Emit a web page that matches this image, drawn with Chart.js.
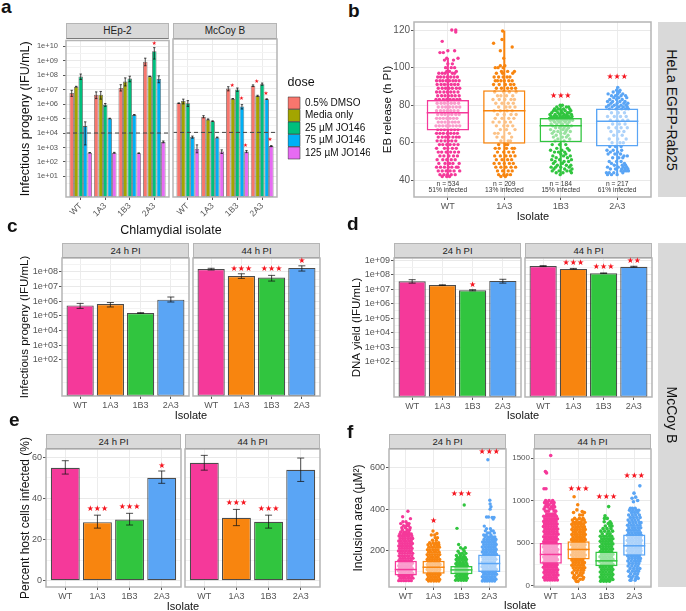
<!DOCTYPE html>
<html><head><meta charset="utf-8">
<script src="https://cdn.jsdelivr.net/npm/chart.js@4"></script>
<style>
html,body{margin:0;padding:0;background:#fff}
body{position:relative;width:686px;height:611px;overflow:hidden;font-family:"Liberation Sans",Arial,sans-serif}
canvas{position:absolute}
.t{position:absolute;white-space:nowrap;line-height:normal;color:#111}
.s{position:absolute;box-sizing:border-box;background:#d9d9d9;border:1px solid #b5b5b5;border-bottom:1.5px solid #7a7a7a;color:#222;text-align:center}
</style></head><body>
<script>
/* ---------- shared labels and colours ---------- */
const isolates = ["WT","1A3","1B3","2A3"];
const isoColors = ["#F5399A","#F8850F","#31C53F","#5AA5F5"];
const doses = ["0.5% DMSO","Media only","25 µM JO146","75 µM JO146","125 µM JO146"];
const doseColors = ["#F8766D","#A3A500","#00BF7D","#00B0F6","#E76BF3"];

/* ---------- panel a: values per dose, per isolate ---------- */
const hepValues = [[5.8e6,4.4e6,1.3e7,8.5e8],[1.6e7,4.4e6,3.6e7,8.3e7],[8e7,9e5,5.8e7,4.6e9],[3e4,1e5,1.8e5,5.5e7],[4.3e2,4.3e2,4e2,2.4e3]];
const hepLow = [[3.4e6,2.4e6,8e6,4.5e8],[1.5e7,2.2e6,1.8e7,8e7],[5e7,7e5,3.5e7,1.3e9],[1.5e3,9.5e4,1.7e5,3e7],[4.1e2,4e2,3.9e2,2.1e3]];
const hepHigh = [[9e6,7e6,2.2e7,1.5e9],[1.7e7,7.5e6,6.5e7,8.6e7],[1.2e8,1.1e6,8.5e7,8e9],[5.9e4,1.05e5,1.9e5,9e7],[4.5e2,4.6e2,4.2e2,2.8e3]];
const mccValues = [[1e6,1.2e5,1e7,1.6e7],[1.4e6,7.8e4,2e6,3.2e6],[1e6,5.9e4,8.7e6,2e7],[4.8e3,4.5e3,6e5,1.9e6],[7.6e2,4.9e2,4.9e2,1.15e3]];
const mccLow = [[9.5e5,1e5,7e6,1.4e7],[9e5,7.2e4,1.9e6,2.9e6],[6e5,5.6e4,6.5e6,1.7e7],[4e3,4.2e3,4e5,1.8e6],[4e2,3.6e2,4.1e2,1.05e3]];
const mccHigh = [[1.05e6,1.4e5,1.35e7,1.8e7],[1.9e6,8.4e4,2.1e6,3.5e6],[1.5e6,6.2e4,1.1e7,2.4e7],[5.6e3,4.8e3,8e5,2e6],[1.4e3,6.4e2,5.8e2,1.25e3]];
const cutoff = 1e4;

/* ---------- panel c ---------- */
const c24 = [5.1e5,6.3e5,1.55e5,1.26e6], c24Low = [3.2e5,4e5,1.45e5,8.7e5], c24High = [7e5,8e5,1.65e5,1.9e6];
const c44 = [1.5e8,5e7,4e7,1.8e8], c44Low = [1.3e8,3.5e7,2.3e7,1.1e8], c44High = [1.7e8,7.2e7,5.6e7,2.5e8];
/* ---------- panel d ---------- */
const d24 = [3.5e7,1.9e7,8.5e6,3.7e7], d24Low = [2.6e7,1.8e7,7.7e6,2.6e7], d24High = [4.5e7,2e7,9.2e6,4.8e7];
const d44 = [3.9e8,2.5e8,1.26e8,3.5e8], d44Low = [3.6e8,2.35e8,1.2e8,3.3e8], d44High = [4.2e8,2.7e8,1.32e8,3.8e8];
/* ---------- panel e ---------- */
const e24 = [55,28.5,29.8,50.1], e24Low = [51.9,25.6,27.1,47.4], e24High = [58.4,31.9,32.8,53.4];
const e44 = [57.4,30.6,28.7,54], e44Low = [53.8,26.8,25.6,48.3], e44High = [61,34.7,31.9,59.7];

/* ---------- panel b: box statistics [q1, median, q3], whiskers, counts ---------- */
const bBox = [[66.5,76,82.8],[59.5,77,88],[60.2,69,73.2],[58,71.4,78.2]];
const bWhisk = [[42,105],[42,119.5],[43,80],[43,89]];
const bN = ["n = 534","n = 209","n = 184","n = 217"];
const bPct = ["51% infected","13% infected","15% infected","61% infected"];
/* points: [y, [x offsets in hundredths of a category]] */
const bWT = [[120,[7,14]],[119,[14]],[114,[-10]],[109,[0,12]],[108,[-14,-8]],[105,[-2,18]],[104,[-6,10]],[102,[0,8]],[100,[-4,6,12]],[98,[-2,3,15]],[97,[-16,-10,-5,8,12]],[95,[-18,-13,-7,-1,5,11,17]],[93,[-20,-14,-9,-3,3,9,14,20]],[91,[-19,-12,-6,0,6,12,18]],[89,[-17,-10,-4,2,8,15,21]],[87,[-20,-14,-7,-1,5,11,18]],[85,[-18,-11,-5,1,7,13,20]],[83,[-21,-15,-8,-2,4,10,16,21]],[81,[-19,-12,-6,0,6,12,19]],[79,[-17,-10,-4,3,9,15,21]],[77,[-20,-13,-7,-1,5,11,18]],[75,[-18,-11,-5,1,7,14,20]],[73,[-20,-14,-8,-2,4,10,16]],[71,[-17,-11,-5,2,8,13,19]],[69,[-21,-15,-9,-3,3,9,15,21]],[67,[-18,-12,-6,0,6,12,18]],[65,[-20,-14,-8,-1,5,11,17]],[63,[-17,-10,-4,2,9,15,20]],[61,[-19,-12,-5,1,7,14]],[59,[-15,-9,-2,4,11,18]],[57,[-20,-6,0,8,15]],[55,[-17,-11,-3,5,12,19]],[53,[-14,-7,2,10,17]],[51,[-19,-9,-2,6,13]],[49,[-16,-5,3,9,20]],[47,[-20,-13,-6,1,7,15,18]],[45,[-17,-10,-3,4,11,21]],[43,[-14,-7,-1,6,13]],[42,[-10,-2,3]]];
const b1A3 = [[119.5,[-3]],[115,[-4]],[113,[-19]],[111,[14]],[109,[-7]],[105,[-1]],[101,[-7,1]],[100,[-16,-11,-2]],[98,[18,-5,6]],[97,[-14,-3,15]],[95,[-18,-10,-2,5,10]],[93,[-16,-12,-6,0,8,14]],[91,[-19,-9,2,11,17]],[89,[-14,-5,6,13,20]],[87,[-17,-1,9,21]],[85,[-12,-6,4,15]],[83,[-20,-9,1,12,18]],[81,[-15,-4,7,16]],[79,[-10,3,10,19]],[77,[-18,-7,5,14]],[75,[-12,0,12,21]],[73,[-16,-4,8,17]],[71,[-20,-9,2,11]],[69,[-14,-1,6,15]],[67,[-7,4,19]],[65,[-17,-11,9]],[63,[-13,-3,13]],[61,[-6,7,11]],[59,[-10,2,6]],[57,[-16,-9,4,14,18]],[55,[-12,-1,8,16]],[53,[-17,-7,3,11,19]],[51,[-14,-4,6,13]],[49,[-18,-9,0,9,16]],[47,[-15,-6,3,12,20]],[45,[-12,-3,7,14]],[43,[-10,-1,5,11]],[42,[-6,2]]];
const b1B3 = [[80,[-1,3]],[79,[-7,10,14]],[78,[-11,-4,5,16]],[77,[-13,-8,1,8,18]],[76,[-16,-5,3,12,15]],[75,[-19,-10,-2,6,11,19]],[74,[-17,-12,-7,-1,4,9,14,20]],[73,[-20,-15,-9,-4,2,7,12,17]],[72,[-18,-13,-6,0,5,10,16,21]],[71,[-11,-3,8,15]],[70,[-17,-7,3,12]],[69,[-14,1,10,19]],[68,[-9,-2,6,14]],[67,[-18,4,11]],[66,[-12,-5,9,17]],[65,[-15,0,7]],[64,[-8,13]],[63,[-13,3,10]],[62,[-5,16]],[61,[-10,6]],[59,[-15,-2,9]],[57,[-7,12]],[56,[-18,2,15]],[55,[-11,-4,7]],[54,[0,9]],[53,[-14,5,17]],[52,[-8,12]],[51,[-16,-2,19]],[50,[-10,6,14]],[49,[-13,3]],[48,[-6,10,18]],[47,[-17,-9,0,15]],[46,[-12,7,20]],[45,[-15,-3,11,17]],[44,[-8,4,19]],[43,[-1]]];
const b2A3 = [[89.5,[1]],[88,[-1,5]],[87,[-7,4]],[86,[-16,1,10]],[85,[-10,-3,7,15]],[84,[-6,3,17]],[83,[-13,-1,9]],[82,[-17,-8,5,14]],[81,[-11,0,12,19]],[80,[-15,-5,7,16]],[79,[-19,-9,3,11,18]],[78,[-14,-2,8,15,20]],[76,[-10,2,13]],[74,[-17,-5,6,16]],[72,[-12,0,10,19]],[70,[-8,4,14]],[68,[-15,-2,7,18]],[66,[-11,3,12]],[64,[-6,9]],[62,[-14,1,16]],[60,[-9,5,11]],[58,[-13,-3,7]],[56,[-18,-7,8]],[55,[-12,1]],[54,[-16,-4,6]],[53,[12,18]],[52,[-8,3,10]],[50,[-14,-1,7]],[49,[-10,13]],[48,[-5,9,15]],[47,[-17,2,11,17]],[46,[-12,-3,8,14,19]],[45,[7,12,16,20]],[44,[-19,-14,-6,10]],[43,[-17,-10,0]]];

/* ---------- panel f: box statistics and points ---------- */
const f24Box = [[78.5,107.7,149.8],[88,119,150],[85,106,125.5],[96,137,180.6]];
const f44Box = [[256,366,500],[307,425,520],[228,291,402],[350,468,602]];
const f24WT = [[390,[8]],[363,[-11]],[354,[17]],[339,[-10,1]],[330,[-18,6,12]],[320,[-8,3,10]],[310,[-14,-1,16]],[300,[-12,5,14]],[290,[-18,-7,2,11]],[280,[-21,-10,-2,6,14,20]],[270,[-24,-15,-6,3,12,22]],[258,[-20,-11,-2,8,17,25]],[246,[-25,-16,-7,2,11,20]],[234,[-21,-12,-3,6,15,24]],[222,[-25,-16,-8,1,10,19]],[210,[-22,-13,-4,5,14,23]],[198,[-26,-17,-8,2,11,20]],[186,[-21,-12,-3,7,16,25]],[174,[-24,-15,-6,3,12,22]],[162,[-20,-11,-2,8,17,26]],[150,[-25,-16,-7,2,11,20]],[138,[-21,-12,-3,6,15,24]],[126,[-25,-16,-8,1,10,19]],[114,[-22,-13,-4,5,14,23]],[102,[-26,-17,-8,2,11,20]],[90,[-21,-12,-3,7,16,25]],[78,[-24,-15,-6,3,12,22]],[66,[-20,-11,-2,8,17,26]],[54,[-25,-16,-7,2,11,20]]];
const f24A = [[294,[-2]],[282,[12]],[275,[-8,4]],[262,[6,14]],[250,[-4,10]],[238,[-14,-2,8,18]],[228,[-20,-9,3,12,19]],[216,[-17,-7,2,11,21]],[204,[-22,-13,-3,7,16]],[192,[-18,-9,1,10,20]],[180,[-23,-14,-5,5,14,22]],[168,[-19,-10,-1,8,17]],[156,[-23,-14,-5,4,13,22]],[144,[-18,-9,1,10,19]],[132,[-22,-13,-4,6,15,23]],[120,[-19,-10,0,9,18]],[108,[-23,-14,-5,4,13,22]],[96,[-18,-9,1,10,20]],[84,[-22,-13,-4,6,15,23]],[72,[-19,-10,0,9,18]],[60,[-23,-14,-5,4,13,22]],[52,[-18,-9,1,10,19]]];
const f1B = [[420,[10]],[307,[-16]],[229,[-10]],[213,[14,-3]],[206,[6]],[196,[-12,10]],[186,[-7,3,16]],[176,[-18,-3,9]],[166,[-14,-5,5,14]],[156,[-19,-9,1,11,18]],[146,[-15,-5,6,16]],[136,[-20,-10,0,9,19]],[126,[-16,-6,4,13,21]],[116,[-20,-11,-1,8,17]],[106,[-16,-6,4,13,21]],[96,[-20,-10,0,9,18]],[86,[-16,-6,4,13,20]],[76,[-20,-10,0,9,18]],[66,[-16,-6,4,13,21]],[56,[-21,-11,-1,8,17]]];
const f24C = [[639,[-5]],[443,[2]],[425,[3]],[412,[6]],[400,[3]],[362,[-10,-3]],[360,[10,17]],[352,[14]],[318,[-18]],[305,[-10,4]],[295,[-14,8,14]],[285,[-6,1,18]],[275,[-20,-11,6]],[265,[-15,-5,3,12,20]],[253,[-19,-9,0,9,17,24]],[241,[-24,-14,-5,4,13,21]],[229,[-20,-10,-1,8,17,25]],[217,[-25,-15,-6,3,12,21]],[205,[-21,-11,-2,7,16,25]],[193,[-25,-16,-7,3,12,22]],[181,[-20,-11,-2,8,17,26]],[169,[-25,-16,-7,2,11,20]],[157,[-21,-12,-3,6,15,24]],[145,[-25,-16,-8,1,10,19]],[133,[-22,-13,-4,5,14,23]],[121,[-26,-17,-8,2,11,20]],[109,[-21,-12,-3,7,16,25]],[97,[-24,-15,-6,3,12,22]],[85,[-20,-11,-2,8,17,26]],[73,[-25,-16,-7,2,11,20]],[61,[-21,-12,-3,6,15,24]],[52,[-25,-16,-8,1,10,19]]];
const f44WT = [[1530,[0]],[1340,[-19]],[1325,[-15]],[1138,[-24,-17]],[1000,[-18,-6,7]],[975,[-22,-12,2,12]],[950,[-16,-6,10]],[925,[-20,-10,3,14]],[900,[-24,-3,8]],[875,[-18,-9,13,18]],[840,[-14,-4,6,15]],[815,[-25,-16,-7,2,11,20]],[785,[-21,-12,-3,6,15,24]],[755,[-25,-16,-8,1,10,19]],[725,[-22,-13,-4,5,14,23]],[695,[-26,-17,-8,2,11,20]],[665,[-21,-12,-3,7,16,25]],[635,[-24,-15,-6,3,12,22]],[605,[-20,-11,-2,8,17,26]],[575,[-25,-16,-7,2,11,20]],[545,[-21,-12,-3,6,15,24]],[515,[-25,-16,-8,1,10,19]],[485,[-22,-13,-4,5,14,23]],[455,[-26,-17,-8,2,11,20]],[425,[-21,-12,-3,7,16,25]],[395,[-24,-15,-6,3,12,22]],[365,[-20,-11,-2,8,17,26]],[335,[-25,-16,-7,2,11,20]],[305,[-21,-12,-3,6,15,24]],[275,[-25,-16,-8,1,10,19]],[245,[-22,-13,-4,5,14,23]],[215,[-26,-17,-8,2,11,20]],[185,[-21,-12,-3,7,16,25]],[155,[-24,-15,-6,3,12,22]],[125,[-20,-11,-2,8,17,26]],[95,[-25,-16,-7,2,11,20]],[65,[-21,-12,-3,6,15,24]]];
const f44A = [[1045,[-16]],[950,[-3]],[890,[-6]],[870,[13]],[860,[-18,21]],[830,[4,14]],[790,[-14,3,16]],[770,[-22,-6,12,20]],[745,[-18,-9,2,9,23]],[720,[-24,-13,-3,7,17]],[690,[-20,-10,0,11,21]],[660,[-24,-14,-5,5,15,24]],[630,[-19,-10,1,10,20]],[600,[-24,-14,-5,5,15,24]],[570,[-20,-10,0,10,20]],[540,[-25,-15,-5,5,14,24]],[510,[-20,-10,0,10,19]],[480,[-25,-15,-5,5,14,23]],[450,[-20,-10,1,11,20]],[420,[-24,-15,-5,5,15,24]],[390,[-20,-10,0,10,19]],[360,[-25,-14,-4,6,15,24]],[330,[-20,-9,1,11,20]],[300,[-24,-14,-4,6,15]],[270,[-19,-9,1,12,21]],[240,[-24,-14,-3,7,17]],[210,[-19,-8,3,13,22]],[180,[-15,-3,9,18]],[150,[-22,-7,6,16]],[120,[-15,1,11]],[95,[-18,-6,18]],[75,[-12,6,15]],[50,[-8,-2]]];
const f1BB = [[929,[8]],[820,[-5]],[790,[-7,3]],[750,[-8,13]],[730,[17,7]],[700,[-4,20,12]],[670,[-12,2,16]],[640,[-20,-6,8,22]],[610,[-15,3,13]],[580,[-22,-10,-1,10,19]],[550,[-17,-7,4,14,23]],[520,[-22,-12,-2,8,18]],[490,[-16,-6,4,14,23]],[460,[-22,-12,-2,8,18]],[430,[-17,-7,3,13,22]],[400,[-22,-12,-2,8,18]],[370,[-17,-7,3,13,23]],[340,[-23,-13,-3,8,18]],[310,[-17,-7,3,13,23]],[280,[-23,-12,-2,8,18]],[250,[-17,-7,4,14,23]],[220,[-22,-12,-2,9,19]],[190,[-17,-7,4,14,23]],[160,[-22,-12,-2,9,19]],[130,[-17,-7,4,14,23]],[100,[-22,-12,-2,9,19]],[72,[-17,-7,4,14,23]],[52,[-21,-10,0,11]]];
const f44C = [[1173,[20]],[1087,[-1]],[1040,[5]],[1027,[-8]],[1000,[12]],[985,[-3]],[910,[-14,-7,3]],[885,[-17,-5,8,16]],[860,[-10,1,12]],[830,[-20,-7,5,18]],[800,[-14,-3,9,21]],[770,[-22,-9,2,14]],[740,[-17,-5,6,19,24]],[710,[-24,-12,-2,10,20]],[680,[-19,-7,3,14,23]],[650,[-24,-14,-3,7,17]],[620,[-20,-9,2,12,22]],[590,[-25,-14,-4,7,17,25]],[560,[-20,-9,2,12,22]],[530,[-25,-14,-4,7,17,25]],[500,[-20,-9,2,12,22]],[470,[-25,-14,-4,7,17,24]],[440,[-20,-9,2,12,22]],[410,[-25,-14,-4,7,17,24]],[380,[-20,-9,2,12,22]],[350,[-24,-13,-3,8,18]],[320,[-19,-8,3,13,22]],[290,[-23,-11,1,11,20]],[260,[-18,-6,6,16]],[230,[-22,-9,3,13]],[200,[-15,-2,10,20]],[170,[-21,-7,5,15]],[140,[-13,1,12]],[110,[-18,-5,9]],[85,[-10,6,14]],[62,[-15,-12,3]]];

/* ---------- stars ---------- */
const aHepStars = [{x:4,y:1.5e10,s:"★"}];
const aMccStars = [{x:2.79,y:1.6e7,s:"★"},{x:3.16,y:2e6,s:"★"},{x:3.33,y:1.26e3,s:"★"},{x:3.78,y:3e7,s:"★"},{x:4.15,y:4.7e6,s:"★"},{x:4.32,y:3.1e3,s:"★"}];
const bStars = [{x:3,y:84.9,s:"★★★"},{x:4,y:94.8,s:"★★★"}];
const c44Stars = [{x:2,y:1.6e8,s:"★★★"},{x:3,y:1.45e8,s:"★★★"},{x:4,y:5.6e8,s:"★"}];
const d24Stars = [{x:3,y:2.1e7,s:"★"}];
const d44Stars = [{x:2,y:6.9e8,s:"★★★"},{x:3,y:3.5e8,s:"★★★"},{x:4,y:8.5e8,s:"★★"}];
const e24Stars = [{x:2,y:34.7,s:"★★★"},{x:3,y:35.7,s:"★★★"},{x:4,y:55.8,s:"★"}];
const e44Stars = [{x:2,y:37.8,s:"★★★"},{x:3,y:34.9,s:"★★★"}];
const f24Stars = [{x:2,y:342,s:"★"},{x:3,y:472,s:"★★★"},{x:4,y:676,s:"★★★"}];
const f44Stars = [{x:2,y:1142,s:"★★★"},{x:3,y:1039,s:"★★★"},{x:4,y:1291,s:"★★★"}];

/* ---------- tick lists ---------- */
const logA = [1e1,1e2,1e3,1e4,1e5,1e6,1e7,1e8,1e9,1e10], logAminor = [3.16,31.6,316,3160,31600,316000,3.16e6,3.16e7,3.16e8,3.16e9];
const logC = [1e2,1e3,1e4,1e5,1e6,1e7,1e8], logCminor = [3.16,31.6,316,3160,31600,316000,3.16e6,3.16e7,3.16e8];
const logD = [1e2,1e3,1e4,1e5,1e6,1e7,1e8,1e9], logDminor = [3.16,31.6,316,3160,31600,316000,3.16e6,3.16e7,3.16e8];
const sci = v => { const e = Math.round(Math.log10(v)); return "1e+" + (e<10?"0":"") + e; };

/* ---------- helpers ---------- */
Chart.defaults.font.family = '"Liberation Sans", Arial, sans-serif';
Chart.defaults.animation = false;
Chart.defaults.plugins.tooltip.enabled = false;
Chart.defaults.plugins.legend.display = false;
const TOP = 8;

function txt(s,x,baseline,size,opt={}){
  const d=document.createElement('div'); d.className='t'; d.textContent=s;
  d.style.left=x+'px'; d.style.top=(baseline-.905*size)+'px'; d.style.fontSize=size+'px';
  if(opt.bold) d.style.fontWeight='bold';
  if(opt.center) d.style.transform='translateX(-50%)';
  document.body.appendChild(d);
}
function strip(s,l,r,t,b,size){
  const d=document.createElement('div'); d.className='s'; d.textContent=s;
  d.style.cssText+=`left:${l}px;top:${t}px;width:${r-l}px;height:${b-t}px;font-size:${size}px;line-height:${b-t-2}px`;
  document.body.appendChild(d);
}
function vstrip(s,l,r,t,b,size){
  const d=document.createElement('div'); d.className='t'; d.style.cssText+=`left:${l}px;top:${t}px;width:${r-l}px;height:${b-t}px;background:#d9d9d9`;
  const i=document.createElement('div'); i.textContent=s;
  i.style.cssText=`position:absolute;left:50%;top:50%;transform:translate(-50%,-50%) rotate(90deg);font-size:${size}px;white-space:nowrap;color:#111`;
  d.appendChild(i); document.body.appendChild(d);
}
const expand = (rows,cat)=>rows.flatMap(([y,dx])=>dx.map(d=>({x:cat+d/100,y})));
const cats = vals => vals.map((y,i)=>({x:i+1,y}));

const framePlugin = {id:'frame',afterDraw(ch){const a=ch.chartArea,c=ch.ctx;c.save();c.strokeStyle='#b5b5b5';c.lineWidth=1.5;c.strokeRect(a.left,a.top,a.right-a.left,a.bottom-a.top);c.restore();}};
const errPlugin = cap => ({id:'err',afterDatasetsDraw(ch){
  const c=ch.ctx,ys=ch.scales.y;c.save();c.strokeStyle='rgba(20,20,20,.75)';c.lineWidth=1;
  ch.data.datasets.forEach((ds,k)=>{ if(!ds.errLow) return;
    ch.getDatasetMeta(k).data.forEach((el,i)=>{
      const x=el.x,a=ys.getPixelForValue(ds.errLow[i]),b=ys.getPixelForValue(ds.errHigh[i]);
      c.beginPath();c.moveTo(x,a);c.lineTo(x,b);c.moveTo(x-cap,a);c.lineTo(x+cap,a);c.moveTo(x-cap,b);c.lineTo(x+cap,b);c.stroke();
    });});
  c.restore();}});
const marksPlugin = (list,font,color) => ({id:'marks',afterDraw(ch){
  const c=ch.ctx;c.save();c.textAlign='center';c.textBaseline='middle';
  list.forEach(m=>{c.font=m.font||font;c.fillStyle=m.color||color;
    c.fillText(m.s,ch.scales.x.getPixelForValue(m.x),ch.scales.y.getPixelForValue(m.y));});
  c.restore();}});

function facet(o){
  const cv=document.createElement('canvas');
  const rx=o.rightExtra||3, T=o.topPad||TOP;
  const w=o.pr-o.pl+o.yW+rx, h=o.pb-o.pt+T+o.xH;
  cv.width=w;cv.height=h;cv.style.left=(o.pl-o.yW)+'px';cv.style.top=(o.pt-T)+'px';cv.style.width=w+'px';cv.style.height=h+'px';
  document.body.appendChild(cv);
  const gridColor=c=>c.tick&&c.tick.isMinor?'#f3f3f3':'#e9e9e9';
  const scales={
    x:{type:'linear',min:.4,max:4.6,offset:false,
       afterBuildTicks:s=>{s.ticks=isolates.map((_,i)=>({value:i+1}));},
       afterFit:s=>{s.height=o.xH;},
       grid:{offset:false,color:'#ececec',lineWidth:1,tickLength:3,tickColor:'#555',drawTicks:true},
       border:{display:false},
       ticks:{autoSkip:false,padding:1,color:'#555',font:{size:o.xFont||9},maxRotation:o.rot||0,minRotation:o.rot||0,
              callback:v=>isolates[Math.round(v)-1]}},
    y:{type:o.log?'logarithmic':'linear',min:o.min,max:o.max,
       afterBuildTicks:s=>{s.ticks=[...o.major.map(v=>({value:v})),...(o.minor||[]).map(v=>({value:v,isMinor:true}))];},
       afterFit:s=>{s.width=o.yW;},
       border:{display:false},
       grid:{color:gridColor,lineWidth:1,tickLength:o.axis?3:0,drawTicks:!!o.axis,tickColor:c=>c.tick&&c.tick.isMinor?'rgba(0,0,0,0)':'#555'},
       ticks:{display:!!o.axis,autoSkip:false,padding:o.yPad||1,color:'#555',font:{size:o.yFont||9},
              callback:(v,i,t)=>t[i].isMinor?'':(o.log?sci(v):String(v))},
       title:{display:!!o.title,text:o.title,color:'#111',font:{size:o.titleSize||12},padding:0}}
  };
  const plugins=[framePlugin];
  if(o.cap) plugins.push(errPlugin(o.cap));
  if(o.marks) plugins.push(marksPlugin(o.marks,o.markFont||'8px "DejaVu Sans"','#F5141E'));
  if(o.extraPlugin) plugins.push(o.extraPlugin);
  return new Chart(cv,{type:'bar',data:{datasets:o.datasets},plugins,options:{
    responsive:false,devicePixelRatio:1,animation:false,
    layout:{autoPadding:false,padding:{top:T,right:rx,left:0,bottom:0}},
    scales,plugins:Object.assign({tooltip:{enabled:false}},o.pluginOpts||{legend:{display:false}})
  }});
}
function barDs(vals,low,high){
  return [{type:'bar',data:cats(vals),errLow:low,errHigh:high,backgroundColor:isoColors,borderColor:'rgba(45,45,45,.85)',borderWidth:1.2,borderSkipped:false,categoryPercentage:.9,barPercentage:1,order:1}];
}
function doseDs(vals,low,high){
  const ds=doses.map((label,k)=>({type:'bar',label,data:cats(vals[k]),errLow:low[k],errHigh:high[k],backgroundColor:doseColors[k],borderColor:'rgba(50,50,50,.7)',borderWidth:.8,borderSkipped:false,categoryPercentage:.92,barPercentage:1,order:2}));
  ds.push({type:'line',label:'cutoff',data:[{x:.4,y:cutoff},{x:4.6,y:cutoff}],borderColor:'#444',borderWidth:1,borderDash:[4,3],pointRadius:0,order:0});
  return ds;
}
function boxDs(rowsList,box,whisk,medRadius,ptR,boxPct){
  const ds=rowsList.map((rows,i)=>({type:'scatter',data:expand(rows,i+1),showLine:false,backgroundColor:isoColors[i],pointRadius:ptR,pointBorderWidth:0,order:4}));
  if(whisk) ds.push({type:'bar',data:whisk.map((w,i)=>({x:i+1,y:w})),backgroundColor:isoColors,barThickness:1.4,grouped:false,order:3});
  ds.push({type:'bar',data:box.map((b,i)=>({x:i+1,y:[b[0],b[2]]})),backgroundColor:'rgba(255,255,255,.5)',borderColor:isoColors,borderWidth:1.5,borderSkipped:false,grouped:false,categoryPercentage:1,barPercentage:boxPct,order:2});
  ds.push({type:'scatter',data:box.map((b,i)=>({x:i+1,y:b[1]})),showLine:false,pointStyle:'line',pointRadius:medRadius,pointBorderWidth:1.5,pointBorderColor:isoColors,order:1});
  return ds;
}

/* ---------- panel a ---------- */
strip("HEp-2",66,169,23,39,10); strip("McCoy B",173,277,23,39,10);
const aScale={log:true,min:.376,max:2.5e10,major:logA,minor:logAminor,pt:39,pb:197,xH:32,rot:45,xFont:8.5,yFont:7.5,yPad:5,cap:1.2};
facet({...aScale,pl:66,pr:169,yW:48,axis:true,title:"Infectious progeny (IFU/mL)",titleSize:12.5,datasets:doseDs(hepValues,hepLow,hepHigh),marks:aHepStars,markFont:'5.5px "DejaVu Sans"'});
facet({...aScale,pl:173,pr:277,yW:3,rightExtra:93,datasets:doseDs(mccValues,mccLow,mccHigh),marks:aMccStars,markFont:'5.5px "DejaVu Sans"',
  pluginOpts:{legend:{display:true,position:'chartArea',align:'start',
    title:{display:true,text:'dose',position:'start',color:'#111',font:{size:12.5},padding:{top:2.5,bottom:5}},
    labels:{boxWidth:12,boxHeight:12,padding:.5,color:'#111',font:{size:10},filter:i=>i.text!=='cutoff'}}},
  extraPlugin:{id:'legendMove',afterLayout(ch){ const l=ch.legend; if(l){ l.left=288-.5-(173-3); l.top=74-(39-TOP); l.right=l.left+l.width+4; l.bottom=l.top+l.height+4; } }}
});
txt("Chlamydial isolate",171,234,12.5,{center:true});

/* ---------- panel b ---------- */
vstrip("HeLa EGFP-Rab25",658,686,22,197,14);
const bNotes=[...bN.map((s,i)=>({x:i+1,y:37.9,s,font:'6.7px "Liberation Sans"',color:'#333'})),...bPct.map((s,i)=>({x:i+1,y:34.8,s,font:'6.7px "Liberation Sans"',color:'#333'}))];
facet({pl:414,pr:651,pt:22,pb:197,yW:33,xH:14,axis:true,min:31.1,max:124.3,major:[40,60,80,100,120],minor:[50,70,90,110],yFont:10,title:"EB release (h PI)",titleSize:11.5,
  datasets:boxDs([bWT,b1A3,b1B3,b2A3],bBox,bWhisk,21.2,1.7,.75),marks:[...bStars,...bNotes]});
txt("Isolate",533,220,11,{center:true});

/* ---------- panel c ---------- */
strip("24 h PI",62,189,243,258,9.5); strip("44 h PI",193,320,243,258,9.5);
const cScale={log:true,min:.358,max:8.5e8,major:logC,minor:logCminor,pt:258,pb:396,xH:14,cap:3.5};
facet({...cScale,pl:62,pr:189,yW:44,axis:true,title:"Infectious progeny (IFU/mL)",titleSize:11.5,topPad:12,datasets:barDs(c24,c24Low,c24High)});
facet({...cScale,pl:193,pr:320,yW:3,datasets:barDs(c44,c44Low,c44High),marks:c44Stars});
txt("Isolate",191,419,11,{center:true});

/* ---------- panel d ---------- */
strip("24 h PI",394,521,243,258,9.5); strip("44 h PI",525,652,243,258,9.5);
const dScale={log:true,min:.363,max:1.41e9,major:logD,minor:logDminor,pt:258,pb:397,xH:13,cap:3.5};
facet({...dScale,pl:394,pr:521,yW:44,axis:true,title:"DNA yield (IFU/mL)",titleSize:11.5,datasets:barDs(d24,d24Low,d24High),marks:d24Stars});
facet({...dScale,pl:525,pr:652,yW:3,datasets:barDs(d44,d44Low,d44High),marks:d44Stars});
txt("Isolate",523,419,11,{center:true});

/* ---------- panel e ---------- */
strip("24 h PI",46,181,434,449,9.5); strip("44 h PI",185,320,434,449,9.5);
const eScale={min:-3.06,max:64.1,major:[0,20,40,60],minor:[10,30,50],pt:449,pb:587,xH:13,cap:3.5};
facet({...eScale,pl:46,pr:181,yW:28,axis:true,title:"Percent host cells infected (%)",titleSize:12,topPad:14,datasets:barDs(e24,e24Low,e24High),marks:e24Stars});
facet({...eScale,pl:185,pr:320,yW:3,datasets:barDs(e44,e44Low,e44High),marks:e44Stars});
txt("Isolate",183,610,11,{center:true});

/* ---------- panel f ---------- */
strip("24 h PI",389,506,434,449,9.5); strip("44 h PI",534,651,434,449,9.5);
facet({pl:389,pr:506,pt:449,pb:587,yW:38,xH:13,axis:true,min:23.3,max:691,major:[200,400,600],minor:[100,300,500],yFont:9,title:"Inclusion area (µM²)",titleSize:12,
  datasets:boxDs([f24WT,f24A,f1B,f24C],f24Box,null,11,1.7,.8),marks:f24Stars});
facet({pl:534,pr:651,pt:449,pb:587,yW:30,xH:13,axis:true,min:-16.5,max:1606,major:[0,500,1000,1500],minor:[250,750,1250],yFont:8,
  datasets:boxDs([f44WT,f44A,f1BB,f44C],f44Box,null,11,1.8,.8),marks:f44Stars});
txt("Isolate",520,609,11,{center:true});

vstrip("McCoy B",658,686,243,587,14);

/* ---------- panel letters ---------- */
txt("a",1,13,19,{bold:true}); txt("b",348,17,19,{bold:true}); txt("c",7,232,19,{bold:true});
txt("d",347,230,19,{bold:true}); txt("e",9,426,19,{bold:true}); txt("f",347,438,19,{bold:true});
</script>
</body></html>
